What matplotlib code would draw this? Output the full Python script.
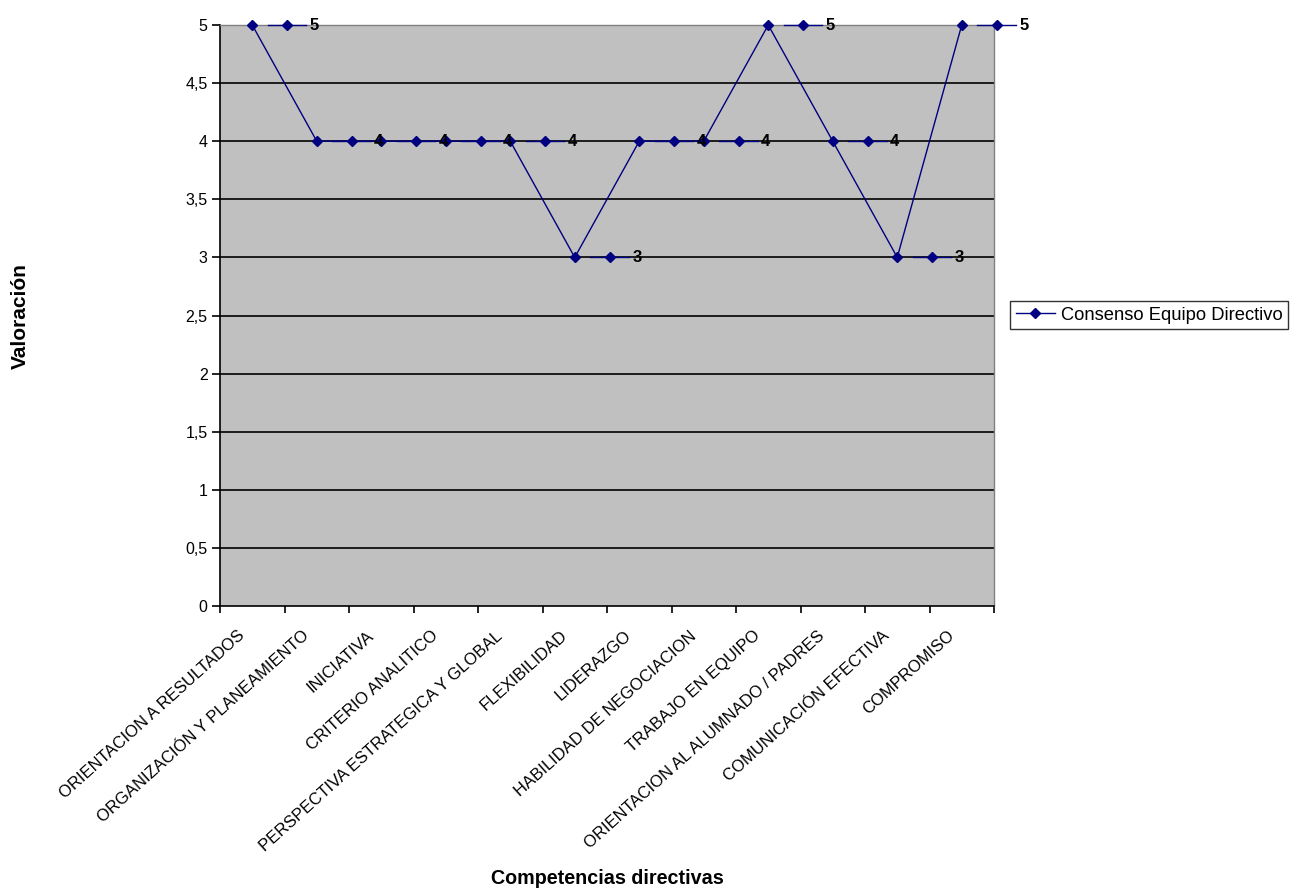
import matplotlib
matplotlib.use("Agg")
import matplotlib.pyplot as plt
from matplotlib.lines import Line2D
from matplotlib.transforms import ScaledTranslation

plt.rcParams['font.family'] = ['Liberation Sans', 'DejaVu Sans']

categories = [
    "ORIENTACION A RESULTADOS",
    "ORGANIZACIÓN Y PLANEAMIENTO",
    "INICIATIVA",
    "CRITERIO ANALITICO",
    "PERSPECTIVA ESTRATEGICA Y GLOBAL",
    "FLEXIBILIDAD",
    "LIDERAZGO",
    "HABILIDAD DE NEGOCIACION",
    "TRABAJO EN EQUIPO",
    "ORIENTACION AL ALUMNADO / PADRES",
    "COMUNICACIÓN EFECTIVA",
    "COMPROMISO",
]
valores = [5, 4, 4, 4, 4, 3, 4, 4, 5, 4, 3, 5]
serie = "Consenso Equipo Directivo"
y_ticks = [0, 0.5, 1, 1.5, 2, 2.5, 3, 3.5, 4, 4.5, 5]
y_labels = ["0", "0,5", "1", "1,5", "2", "2,5", "3", "3,5", "4", "4,5", "5"]

navy = "#000080"

fig = plt.figure(figsize=(12.95, 8.91), dpi=100)
ax = fig.add_axes([220 / 1295, 1 - 606 / 891, 774 / 1295, 581 / 891])
ax.set_facecolor("#C0C0C0")

x = [i + 0.5 for i in range(len(categories))]

for yv in y_ticks[1:]:
    ax.axhline(yv, color="black", lw=1.2, zorder=1)

ax.plot(x, valores, color=navy, lw=1.0, marker="D", markersize=5,
        zorder=3, clip_on=False)

# data labels with legend key
for xi, v in zip(x, valores):
    ax.plot([xi + 0.24, xi + 0.84], [v, v], color=navy, lw=1.0, zorder=4,
            clip_on=False)
    ax.plot([xi + 0.54], [v], color=navy, marker="D", markersize=5,
            zorder=4, clip_on=False)
    ax.text(xi + 0.89, v, str(v), fontsize=12, fontweight="bold",
            ha="left", va="center", zorder=5, clip_on=False)

ax.set_xlim(0, len(categories))
ax.set_ylim(0, 5)
ax.set_xticks(range(len(categories) + 1))
ax.set_xticklabels([])
ax.tick_params(axis="x", which="major", length=5, width=1.2, direction="out")

# slanted category names under each category centre
label_offset = ScaledTranslation(-15 / 100, -22 / 100, fig.dpi_scale_trans)
for xi, name in zip(x, categories):
    ax.text(xi, 0, name, transform=ax.get_xaxis_transform() + label_offset,
            rotation=42, ha="right", va="top", rotation_mode="anchor",
            fontsize=12, clip_on=False)

ax.set_yticks(y_ticks)
ax.set_yticklabels(y_labels, fontsize=11.5)
ax.tick_params(axis="y", length=6, width=1.2, direction="out", pad=3)

for s in ["left", "bottom"]:
    ax.spines[s].set_color("black")
    ax.spines[s].set_linewidth(1.2)
for s in ["top", "right"]:
    ax.spines[s].set_color("#808080")
    ax.spines[s].set_linewidth(1.0)

fig.text(20 / 1295, 1 - 316 / 891, "Valoración", rotation=90, fontsize=15,
         fontweight="bold", ha="center", va="center")
fig.text(607 / 1295, 1 - 878 / 891, "Competencias directivas", fontsize=14.2,
         fontweight="bold", ha="center", va="center")

handle = Line2D([], [], color=navy, lw=1.0, marker="D", markersize=5)
leg = fig.legend([handle], [serie], loc="center left",
                 bbox_to_anchor=(1010 / 1295, 1 - 315 / 891), fontsize=13.2,
                 frameon=True, fancybox=False, edgecolor="black",
                 handlelength=2.15, borderpad=0.3, handletextpad=0.32,
                 borderaxespad=0)
leg.get_frame().set_linewidth(1.0)

fig.savefig("out.png", dpi=100, facecolor="white")
